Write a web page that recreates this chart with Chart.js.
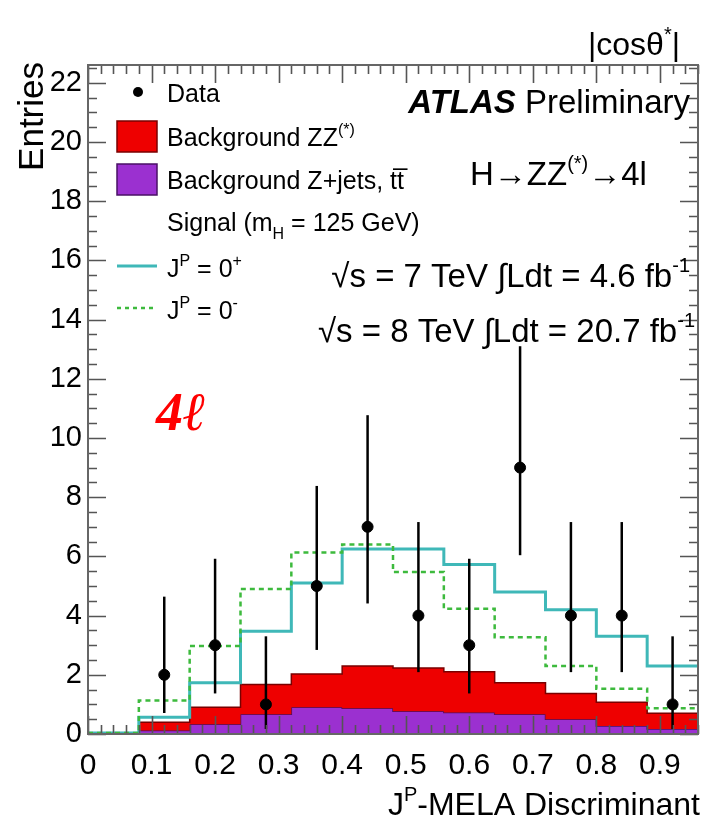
<!DOCTYPE html>
<html>
<head>
<meta charset="utf-8">
<script src="https://cdn.jsdelivr.net/npm/chart.js@4.4.1/dist/chart.umd.min.js"></script>
<style>
  html, body { margin: 0; padding: 0; background: #fff; }
  #wrap { width: 706px; height: 828px; }
</style>
</head>
<body>
<div id="wrap"><canvas id="melaChart"></canvas></div>
<script>
// Discriminant binning (12 bins of 0.08)
const binEdges = [0, 0.08, 0.16, 0.24, 0.32, 0.40, 0.48, 0.56, 0.64, 0.72, 0.80, 0.88, 0.96];
const binCenters = [0.04, 0.12, 0.20, 0.28, 0.36, 0.44, 0.52, 0.60, 0.68, 0.76, 0.84, 0.92];

// Observed events with asymmetric (Poisson) error bar ends
const dataCounts  = [null, 2, 3, 1, 5, 7, 4, 3, 9, 4, 4, 1];
const dataErrLow  = [null, 0.71, 1.37, 0.17, 2.84, 4.41, 2.09, 1.37, 6.04, 2.09, 2.09, 0.17];
const dataErrHigh = [null, 4.64, 5.92, 3.30, 8.38, 10.77, 7.16, 5.92, 13.1, 7.16, 7.16, 3.30];

// Backgrounds (stacked: Z+jets/ttbar at the bottom, ZZ on top)
const bkgZjets = [0.02, 0.12, 0.33, 0.67, 0.90, 0.87, 0.77, 0.73, 0.67, 0.50, 0.27, 0.17];
const bkgZZ    = [0.01, 0.28, 0.57, 1.00, 1.13, 1.43, 1.46, 1.37, 1.06, 0.87, 0.80, 0.53];

// Signal + background expectation for the two spin-parity hypotheses
const sigZeroPlus  = [0.03, 0.57, 1.73, 3.47, 5.10, 6.25, 6.25, 5.73, 4.80, 4.20, 3.30, 2.30];
const sigZeroMinus = [0.03, 1.13, 2.97, 4.90, 6.13, 6.40, 5.47, 4.23, 3.27, 2.30, 1.53, 0.87];

// Axis ticks
const xTickValues = [0, 0.1, 0.2, 0.3, 0.4, 0.5, 0.6, 0.7, 0.8, 0.9];
const xTickLabels = ['0', '0.1', '0.2', '0.3', '0.4', '0.5', '0.6', '0.7', '0.8', '0.9'];
const yTickValues = [0, 2, 4, 6, 8, 10, 12, 14, 16, 18, 20, 22];
const yTickLabels = ['0', '2', '4', '6', '8', '10', '12', '14', '16', '18', '20', '22'];

const FONT = '"Liberation Sans", Arial, Helvetica, sans-serif';
const bkgStackTop = bkgZZ.map((v, i) => v + bkgZjets[i]);

// histogram outline: one point per bin edge, last bin repeated at the right edge
function stepPoints(values) {
  return binEdges.map((e, i) => ({ x: e, y: values[Math.min(i, values.length - 1)] }));
}

// text with superscripts / subscripts, parts = [{t, s: 'sup'|'sub', f: 'bold italic'}]
function drawRich(ctx, x, y, parts, size, align) {
  const fontOf = p => (p.f ? p.f + ' ' : '') + Math.round(p.s ? size * 0.62 : size) + 'px ' + FONT;
  const widths = parts.map(p => { ctx.font = fontOf(p); return ctx.measureText(p.t).width; });
  const total = widths.reduce((a, b) => a + b, 0);
  let cx = align === 'right' ? x - total : x;
  ctx.textAlign = 'left';
  ctx.textBaseline = 'alphabetic';
  parts.forEach((p, i) => {
    ctx.font = fontOf(p);
    const dy = p.s === 'sup' ? -size * 0.45 : p.s === 'sub' ? size * 0.32 : 0;
    ctx.fillText(p.t, cx, y + dy);
    cx += widths[i];
  });
}

// ROOT style frame: inner ticks on all four sides, error bars, labels
const rootFrame = {
  id: 'rootFrame',
  afterDatasetsDraw(chart) {
    const { ctx, chartArea: a, scales: { x, y } } = chart;
    ctx.save();

    // error bars
    ctx.strokeStyle = '#000';
    ctx.lineWidth = 2.5;
    binCenters.forEach((c, i) => {
      if (dataCounts[i] === null) return;
      const px = x.getPixelForValue(c);
      ctx.beginPath();
      ctx.moveTo(px, y.getPixelForValue(dataErrLow[i]));
      ctx.lineTo(px, Math.max(a.top, y.getPixelForValue(dataErrHigh[i])));
      ctx.stroke();
    });

    // ticks
    ctx.strokeStyle = '#555';
    ctx.lineWidth = 1.6;
    ctx.beginPath();
    for (let k = 0; k <= 48; k++) {
      const v = k * 0.02;
      if (v > 0.961) break;
      const px = Math.round(x.getPixelForValue(v)) + 0.5;
      const len = k % 5 === 0 ? 18 : 9;
      ctx.moveTo(px, a.bottom); ctx.lineTo(px, a.bottom - len);
      ctx.moveTo(px, a.top); ctx.lineTo(px, a.top + len);
    }
    for (let k = 0; k <= 45; k++) {
      const v = k * 0.5;
      const py = Math.round(y.getPixelForValue(v)) + 0.5;
      const len = k % 4 === 0 ? 18 : 9;
      ctx.moveTo(a.left, py); ctx.lineTo(a.left + len, py);
      ctx.moveTo(a.right, py); ctx.lineTo(a.right - len, py);
    }
    ctx.stroke();

    // frame
    ctx.strokeStyle = '#666';
    ctx.lineWidth = 2;
    ctx.strokeRect(a.left, a.top, a.right - a.left, a.bottom - a.top);
    ctx.restore();
  },
  afterDraw(chart) {
    const { ctx } = chart;
    ctx.save();
    ctx.fillStyle = '#000';

    // variable name in the corner
    drawRich(ctx, 680, 55, [{ t: '|cos\u03b8' }, { t: '*', s: 'sup' }, { t: '|' }], 32, 'right');

    // axis titles
    drawRich(ctx, 700, 815, [{ t: 'J' }, { t: 'P', s: 'sup' }, { t: '-MELA Discriminant' }], 32, 'right');
    ctx.save();
    ctx.translate(43, 62);
    ctx.rotate(-Math.PI / 2);
    ctx.font = '35px ' + FONT;
    ctx.textAlign = 'right';
    ctx.fillText('Entries', 0, 0);
    ctx.restore();

    // experiment labels
    drawRich(ctx, 690, 113, [{ t: 'ATLAS', f: 'bold italic' }, { t: ' Preliminary' }], 33, 'right');
    drawRich(ctx, 470, 185, [{ t: 'H\u2192ZZ' }, { t: '(*)', s: 'sup' }, { t: '\u21924l' }], 33);
    drawRich(ctx, 690, 287, [{ t: '\u221as = 7 TeV \u222bLdt = 4.6 fb' }, { t: '-1', s: 'sup' }], 33, 'right');
    drawRich(ctx, 695, 342, [{ t: '\u221as = 8 TeV \u222bLdt = 20.7 fb' }, { t: '-1', s: 'sup' }], 33, 'right');

    // channel tag
    ctx.fillStyle = '#ff0000';
    ctx.font = 'bold italic 54px "Liberation Serif", "DejaVu Serif", serif';
    ctx.fillText('4\u2113', 156, 430);

    // legend
    const lx = 167, fs = 25;
    ctx.fillStyle = '#000';
    ctx.beginPath();
    ctx.arc(138, 92, 5, 0, Math.PI * 2);
    ctx.fill();
    drawRich(ctx, lx, 102, [{ t: 'Data' }], fs);

    ctx.fillStyle = '#ee0000';
    ctx.fillRect(117, 121, 40, 31);
    ctx.strokeStyle = '#7a0000';
    ctx.lineWidth = 1.5;
    ctx.strokeRect(117, 121, 40, 31);
    ctx.fillStyle = '#000';
    drawRich(ctx, lx, 146, [{ t: 'Background ZZ' }, { t: '(*)', s: 'sup' }], fs);

    ctx.fillStyle = '#9b30d0';
    ctx.fillRect(117, 164, 40, 31);
    ctx.strokeStyle = '#4a1066';
    ctx.strokeRect(117, 164, 40, 31);
    ctx.fillStyle = '#000';
    drawRich(ctx, lx, 189, [{ t: 'Background Z+jets, t' }, { t: 't\u0305' }], fs);

    drawRich(ctx, lx, 231, [{ t: 'Signal (m' }, { t: 'H', s: 'sub' }, { t: ' = 125 GeV)' }], fs);

    ctx.strokeStyle = '#3fb8b8';
    ctx.lineWidth = 3;
    ctx.beginPath(); ctx.moveTo(117, 266); ctx.lineTo(157, 266); ctx.stroke();
    drawRich(ctx, lx, 277, [{ t: 'J' }, { t: 'P', s: 'sup' }, { t: ' = 0' }, { t: '+', s: 'sup' }], fs);

    ctx.strokeStyle = '#3dba3d';
    ctx.lineWidth = 2.5;
    ctx.setLineDash([4, 4]);
    ctx.beginPath(); ctx.moveTo(117, 308); ctx.lineTo(157, 308); ctx.stroke();
    ctx.setLineDash([]);
    drawRich(ctx, lx, 319, [{ t: 'J' }, { t: 'P', s: 'sup' }, { t: ' = 0' }, { t: '-', s: 'sup' }], fs);

    ctx.restore();
  }
};

const ctx = document.getElementById('melaChart').getContext('2d');
new Chart(ctx, {
  type: 'line',
  data: {
    datasets: [
      {
        label: 'Data',
        data: binCenters.map((c, i) => ({ x: c, y: dataCounts[i] })).filter(p => p.y !== null),
        showLine: false,
        pointRadius: 5.5,
        pointBackgroundColor: '#000',
        pointBorderColor: '#000',
        fill: false
      },
      {
        label: 'JP = 0-',
        data: stepPoints(sigZeroMinus),
        stepped: 'before',
        borderColor: '#3dba3d',
        borderWidth: 2.5,
        borderDash: [5, 4],
        pointRadius: 0,
        fill: false
      },
      {
        label: 'JP = 0+',
        data: stepPoints(sigZeroPlus),
        stepped: 'before',
        borderColor: '#3fb8b8',
        borderWidth: 3,
        pointRadius: 0,
        fill: false
      },
      {
        label: 'Background ZZ(*)',
        data: stepPoints(bkgStackTop),
        stepped: 'before',
        borderColor: '#7a0000',
        borderWidth: 1.5,
        backgroundColor: '#ee0000',
        pointRadius: 0,
        fill: 4
      },
      {
        label: 'Background Z+jets, ttbar',
        data: stepPoints(bkgZjets),
        stepped: 'before',
        borderColor: '#4a1066',
        borderWidth: 1.5,
        backgroundColor: '#9b30d0',
        pointRadius: 0,
        fill: 'origin'
      }
    ]
  },
  options: {
    responsive: true,
    maintainAspectRatio: false,
    animation: false,
    layout: { padding: { top: 65, right: 8, left: 0, bottom: 0 } },
    plugins: { legend: { display: false }, tooltip: { enabled: false } },
    scales: {
      x: {
        type: 'linear',
        min: 0,
        max: 0.96,
        grid: { display: false, drawTicks: false },
        border: { display: false },
        afterFit: s => { s.height = 94; },
        afterBuildTicks: s => { s.ticks = xTickValues.map(v => ({ value: v })); },
        ticks: {
          autoSkip: false,
          maxRotation: 0,
          padding: 14,
          color: '#000',
          font: { family: FONT, size: 30 },
          callback: (v, i) => xTickLabels[i]
        }
      },
      y: {
        type: 'linear',
        min: 0,
        max: 22.6,
        grid: { display: false, drawTicks: false },
        border: { display: false },
        afterFit: s => { s.width = 88; },
        afterBuildTicks: s => { s.ticks = yTickValues.map(v => ({ value: v })); },
        ticks: {
          autoSkip: false,
          padding: 6,
          color: '#000',
          font: { family: FONT, size: 29 },
          callback: (v, i) => yTickLabels[i]
        }
      }
    }
  },
  plugins: [rootFrame]
});
</script>
</body>
</html>
